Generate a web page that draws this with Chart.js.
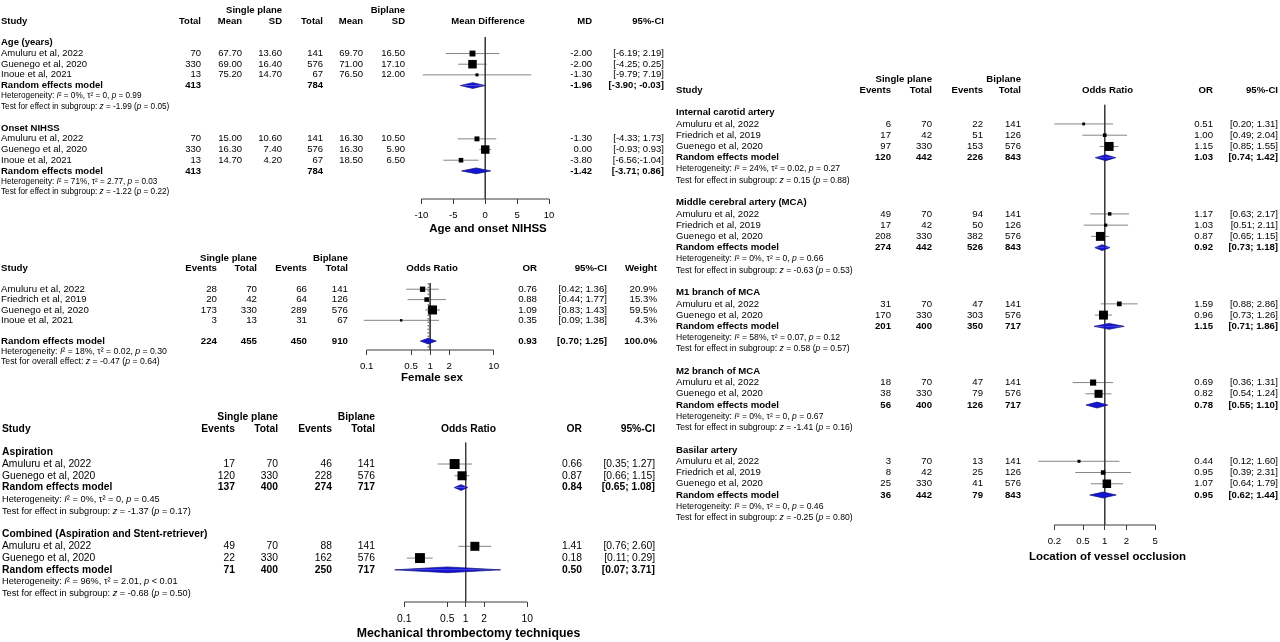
<!DOCTYPE html>
<html>
<head>
<meta charset="utf-8">
<title>Single plane vs biplane forest plots</title>
<script src="https://cdn.jsdelivr.net/npm/chart.js@4.4.1/dist/chart.umd.min.js"></script>
<style>
  html, body { margin: 0; padding: 0; background: #fff; }
  #page { position: relative; width: 1280px; height: 642px; overflow: hidden; background: #fff; }
  #page canvas { position: absolute; }
</style>
</head>
<body>
<div id="page">
  <canvas id="ageChart"></canvas>
  <canvas id="sexChart"></canvas>
  <canvas id="techChart"></canvas>
  <canvas id="vesselChart"></canvas>
</div>
<script>
// ---------- tick labels ----------
const mdTicks = [-10, -5, 0, 5, 10];
const orTicks = [0.1, 0.5, 1, 2, 10];
const vesselTicks = [0.2, 0.5, 1, 2, 5];

// ---------- Age and onset NIHSS (mean difference) ----------
const mdStudy = ['Amuluru et al, 2022', 'Guenego et al, 2020', 'Inoue et al, 2021'];
const mdSpTotal = [70, 330, 13];
const mdBpTotal = [141, 576, 67];

const ageSpMean = [67.70, 69.00, 75.20];
const ageSpSd = [13.60, 16.40, 14.70];
const ageBpMean = [69.70, 71.00, 76.50];
const ageBpSd = [16.50, 17.10, 12.00];
const ageMd = [-2.00, -2.00, -1.30];
const ageLow = [-6.19, -4.25, -9.79];
const ageHigh = [2.19, 0.25, 7.19];
const ageWeight = [30, 62, 8];
const agePooled = [-1.96, -3.90, -0.03];
const agePooledTotal = [413, 784];
const ageHet = [0, 0, 0.99];
const ageTest = [-1.99, 0.05];

const nihssSpMean = [15.00, 16.30, 14.70];
const nihssSpSd = [10.60, 7.40, 4.20];
const nihssBpMean = [16.30, 16.30, 18.50];
const nihssBpSd = [10.50, 5.90, 6.50];
const nihssMd = [-1.30, 0.00, -3.80];
const nihssLow = [-4.33, -0.93, -6.56];
const nihssHigh = [1.73, 0.93, -1.04];
const nihssWeight = [21, 61, 18];
const nihssPooled = [-1.42, -3.71, 0.86];
const nihssPooledTotal = [413, 784];
const nihssHet = [71, 2.77, 0.03];
const nihssTest = [-1.22, 0.22];

// ---------- Female sex ----------
const sexStudy = ['Amuluru et al, 2022', 'Friedrich et al, 2019', 'Guenego et al, 2020', 'Inoue et al, 2021'];
const sexSpEvents = [28, 20, 173, 3];
const sexSpTotal = [70, 42, 330, 13];
const sexBpEvents = [66, 64, 289, 31];
const sexBpTotal = [141, 126, 576, 67];
const sexOr = [0.76, 0.88, 1.09, 0.35];
const sexLow = [0.42, 0.44, 0.83, 0.09];
const sexHigh = [1.36, 1.77, 1.43, 1.38];
const sexWeight = [20.9, 15.3, 59.5, 4.3];
const sexPooled = [0.93, 0.70, 1.25];
const sexPooledCount = [224, 455, 450, 910];
const sexHet = [18, 0.02, 0.30];
const sexTest = [-0.47, 0.64];

// ---------- Mechanical thrombectomy techniques ----------
const techStudy = ['Amuluru et al, 2022', 'Guenego et al, 2020'];

const aspSpEvents = [17, 120];
const aspSpTotal = [70, 330];
const aspBpEvents = [46, 228];
const aspBpTotal = [141, 576];
const aspOr = [0.66, 0.87];
const aspLow = [0.35, 0.66];
const aspHigh = [1.27, 1.15];
const aspWeight = [55, 45];
const aspPooled = [0.84, 0.65, 1.08];
const aspPooledCount = [137, 400, 274, 717];
const aspHet = [0, 0, 0.45];
const aspTest = [-1.37, 0.17];

const combSpEvents = [49, 22];
const combSpTotal = [70, 330];
const combBpEvents = [88, 162];
const combBpTotal = [141, 576];
const combOr = [1.41, 0.18];
const combLow = [0.76, 0.11];
const combHigh = [2.60, 0.29];
const combWeight = [45, 55];
const combPooled = [0.50, 0.07, 3.71];
const combPooledCount = [71, 400, 250, 717];
const combHet = [96, 2.01, '< 0.01'];
const combTest = [-0.68, 0.50];

// ---------- Location of vessel occlusion ----------
const threeStudy = ['Amuluru et al, 2022', 'Friedrich et al, 2019', 'Guenego et al, 2020'];
const twoStudy = ['Amuluru et al, 2022', 'Guenego et al, 2020'];

const icaSpEvents = [6, 17, 97];
const icaSpTotal = [70, 42, 330];
const icaBpEvents = [22, 51, 153];
const icaBpTotal = [141, 126, 576];
const icaOr = [0.51, 1.00, 1.15];
const icaLow = [0.20, 0.49, 0.85];
const icaHigh = [1.31, 2.04, 1.55];
const icaWeight = [8, 13, 79];
const icaPooled = [1.03, 0.74, 1.42];
const icaPooledCount = [120, 442, 226, 843];
const icaHet = [24, 0.02, 0.27];
const icaTest = [0.15, 0.88];

const mcaSpEvents = [49, 17, 208];
const mcaSpTotal = [70, 42, 330];
const mcaBpEvents = [94, 50, 382];
const mcaBpTotal = [141, 126, 576];
const mcaOr = [1.17, 1.03, 0.87];
const mcaLow = [0.63, 0.51, 0.65];
const mcaHigh = [2.17, 2.11, 1.15];
const mcaWeight = [12, 10, 78];
const mcaPooled = [0.92, 0.73, 1.18];
const mcaPooledCount = [274, 442, 526, 843];
const mcaHet = [0, 0, 0.66];
const mcaTest = [-0.63, 0.53];

const m1SpEvents = [31, 170];
const m1SpTotal = [70, 330];
const m1BpEvents = [47, 303];
const m1BpTotal = [141, 576];
const m1Or = [1.59, 0.96];
const m1Low = [0.88, 0.73];
const m1High = [2.86, 1.26];
const m1Weight = [22, 78];
const m1Pooled = [1.15, 0.71, 1.86];
const m1PooledCount = [201, 400, 350, 717];
const m1Het = [58, 0.07, 0.12];
const m1Test = [0.58, 0.57];

const m2SpEvents = [18, 38];
const m2SpTotal = [70, 330];
const m2BpEvents = [47, 79];
const m2BpTotal = [141, 576];
const m2Or = [0.69, 0.82];
const m2Low = [0.36, 0.54];
const m2High = [1.31, 1.24];
const m2Weight = [37, 63];
const m2Pooled = [0.78, 0.55, 1.10];
const m2PooledCount = [56, 400, 126, 717];
const m2Het = [0, 0, 0.67];
const m2Test = [-1.41, 0.16];

const basSpEvents = [3, 8, 25];
const basSpTotal = [70, 42, 330];
const basBpEvents = [13, 25, 41];
const basBpTotal = [141, 126, 576];
const basOr = [0.44, 0.95, 1.07];
const basLow = [0.12, 0.39, 0.64];
const basHigh = [1.60, 2.31, 1.79];
const basWeight = [9, 20, 71];
const basPooled = [0.95, 0.62, 1.44];
const basPooledCount = [36, 442, 79, 843];
const basHet = [0, 0, 0.46];
const basTest = [-0.25, 0.80];

// ---------- helpers ----------
const FONT = '"Liberation Sans", Arial, Helvetica, sans-serif';
const AXIS_H = 40;
const SUBGROUP = 'Test for effect in subgroup';
const INK = '#000';
const RULE = '#3c3c3c';

const f2 = v => v.toFixed(2);

function ciText(lo, hi, tight) {
  return '[' + f2(lo) + ';' + (tight && hi < 0 ? '' : ' ') + f2(hi) + ']';
}

function hetText(h) {
  const tau = h[1] === 0 ? '0' : f2(h[1]);
  const p = typeof h[2] === 'string' ? h[2] : '= ' + f2(h[2]);
  return 'Heterogeneity: {I}\u00b2 = ' + h[0] + '%, \u03c4\u00b2 = ' + tau + ', {p} ' + p;
}

function testText(label, t) {
  return label + ': {z} = ' + f2(t[0]) + ' ({p} = ' + f2(t[1]) + ')';
}

function orGroup(title, study, spE, spT, bpE, bpT, est, low, high, weight, pooled, count, het, test, testLabel) {
  return {
    title, study, est, low, high, weight, pooled, het, test, testLabel,
    cells: [spE, spT, bpE, bpT],
    pooledCells: count
  };
}

const ageGroup = {
  title: 'Age (years)', study: mdStudy,
  cells: [mdSpTotal, ageSpMean.map(f2), ageSpSd.map(f2), mdBpTotal, ageBpMean.map(f2), ageBpSd.map(f2)],
  est: ageMd, low: ageLow, high: ageHigh, weight: ageWeight,
  pooled: agePooled, pooledCells: [agePooledTotal[0], '', '', agePooledTotal[1], '', ''],
  het: ageHet, test: ageTest, testLabel: SUBGROUP
};
const nihssGroup = {
  title: 'Onset NIHSS', study: mdStudy,
  cells: [mdSpTotal, nihssSpMean.map(f2), nihssSpSd.map(f2), mdBpTotal, nihssBpMean.map(f2), nihssBpSd.map(f2)],
  est: nihssMd, low: nihssLow, high: nihssHigh, weight: nihssWeight,
  pooled: nihssPooled, pooledCells: [nihssPooledTotal[0], '', '', nihssPooledTotal[1], '', ''],
  het: nihssHet, test: nihssTest, testLabel: SUBGROUP
};
const sexGroup = orGroup(null, sexStudy, sexSpEvents, sexSpTotal, sexBpEvents, sexBpTotal,
  sexOr, sexLow, sexHigh, sexWeight, sexPooled, sexPooledCount, sexHet, sexTest, 'Test for overall effect');
sexGroup.gap = 1;

const panels = [
  {
    canvas: 'ageChart', left: 0, top: 0, width: 670,
    row0: 38, pitch: 11, axisY: 199, refTop: 32, titleY: 229,
    scale: 'linear', center: 488, unit: 6.5, ref: 0, ticks: mdTicks,
    font: 9.5, noteFont: 8.2, titleFont: 11.5, boxK: 1.08,
    forestHead: 'Mean Difference', title: 'Age and onset NIHSS',
    cols: [
      { x: 1, head: 'Study' }, { x: 201, head: 'Total' }, { x: 242, head: 'Mean' },
      { x: 282, head: 'SD', top: 'Single plane' }, { x: 323, head: 'Total' },
      { x: 363, head: 'Mean' }, { x: 405, head: 'SD', top: 'Biplane' }
    ],
    right: [{ x: 592, head: 'MD' }, { x: 664, head: '95%-CI' }],
    groups: [ageGroup, nihssGroup]
  },
  {
    canvas: 'sexChart', left: 0, top: 240, width: 670,
    row0: 285.5, pitch: 11, axisY: 350, refTop: 279, titleY: 378,
    scale: 'log', center: 432, unit: 28.1, ref: 1, ticks: orTicks, dotted: sexPooled[0],
    font: 9.7, noteFont: 8.7, titleFont: 11.5, boxK: 1.167,
    forestHead: 'Odds Ratio', title: 'Female sex',
    cols: [
      { x: 1, head: 'Study' }, { x: 217, head: 'Events' }, { x: 257, head: 'Total', top: 'Single plane' },
      { x: 307, head: 'Events' }, { x: 348, head: 'Total', top: 'Biplane' }
    ],
    right: [{ x: 537, head: 'OR' }, { x: 607, head: '95%-CI' }, { x: 657, head: 'Weight' }],
    groups: [sexGroup]
  },
  {
    canvas: 'techChart', left: 0, top: 395, width: 670,
    row0: 447, pitch: 12.17, axisY: 602, refTop: 437, titleY: 634,
    scale: 'log', center: 468.5, unit: 27.25, ref: 1, ticks: orTicks,
    font: 10.3, noteFont: 9.2, titleFont: 12.3, boxK: 1.34,
    forestHead: 'Odds Ratio', title: 'Mechanical thrombectomy techniques',
    cols: [
      { x: 2, head: 'Study' }, { x: 235, head: 'Events' }, { x: 278, head: 'Total', top: 'Single plane' },
      { x: 332, head: 'Events' }, { x: 375, head: 'Total', top: 'Biplane' }
    ],
    right: [{ x: 582, head: 'OR' }, { x: 655, head: '95%-CI' }],
    groups: [
      orGroup('Aspiration', techStudy, aspSpEvents, aspSpTotal, aspBpEvents, aspBpTotal,
        aspOr, aspLow, aspHigh, aspWeight, aspPooled, aspPooledCount, aspHet, aspTest, SUBGROUP),
      orGroup('Combined (Aspiration and Stent-retriever)', techStudy, combSpEvents, combSpTotal, combBpEvents, combBpTotal,
        combOr, combLow, combHigh, combWeight, combPooled, combPooledCount, combHet, combTest, SUBGROUP)
    ]
  },
  {
    canvas: 'vesselChart', left: 670, top: 60, width: 610,
    row0: 107, pitch: 11.4, axisY: 525, refTop: 99, titleY: 557,
    scale: 'log', center: 1107.5, unit: 32, ref: 1, ticks: vesselTicks,
    font: 9.6, noteFont: 8.6, titleFont: 11.5, boxK: 1.01,
    forestHead: 'Odds Ratio', title: 'Location of vessel occlusion',
    cols: [
      { x: 676, head: 'Study' }, { x: 891, head: 'Events' }, { x: 932, head: 'Total', top: 'Single plane' },
      { x: 983, head: 'Events' }, { x: 1021, head: 'Total', top: 'Biplane' }
    ],
    right: [{ x: 1213, head: 'OR' }, { x: 1278, head: '95%-CI' }],
    groups: [
      orGroup('Internal carotid artery', threeStudy, icaSpEvents, icaSpTotal, icaBpEvents, icaBpTotal,
        icaOr, icaLow, icaHigh, icaWeight, icaPooled, icaPooledCount, icaHet, icaTest, SUBGROUP),
      orGroup('Middle cerebral artery (MCA)', threeStudy, mcaSpEvents, mcaSpTotal, mcaBpEvents, mcaBpTotal,
        mcaOr, mcaLow, mcaHigh, mcaWeight, mcaPooled, mcaPooledCount, mcaHet, mcaTest, SUBGROUP),
      orGroup('M1 branch of MCA', twoStudy, m1SpEvents, m1SpTotal, m1BpEvents, m1BpTotal,
        m1Or, m1Low, m1High, m1Weight, m1Pooled, m1PooledCount, m1Het, m1Test, SUBGROUP),
      orGroup('M2 branch of MCA', twoStudy, m2SpEvents, m2SpTotal, m2BpEvents, m2BpTotal,
        m2Or, m2Low, m2High, m2Weight, m2Pooled, m2PooledCount, m2Het, m2Test, SUBGROUP),
      orGroup('Basilar artery', threeStudy, basSpEvents, basSpTotal, basBpEvents, basBpTotal,
        basOr, basLow, basHigh, basWeight, basPooled, basPooledCount, basHet, basTest, SUBGROUP)
    ]
  }
];

// rows of a panel: title, studies, pooled estimate, heterogeneity, test, blank
function layoutRows(p) {
  const rows = [];
  let r = 0;
  p.groups.forEach(g => {
    if (g.title) rows.push({ r: r++, kind: 'title', g });
    g.study.forEach((s, i) => rows.push({ r: r++, kind: 'study', g, i }));
    if (g.gap) r += g.gap;
    rows.push({ r: r++, kind: 'pooled', g });
    rows.push({ r: r++, kind: 'het', g });
    rows.push({ r: r++, kind: 'test', g });
    r++;
  });
  return rows;
}

function drawRich(ctx, str, x, y, size) {
  str.split(/(\{[^}]*\})/).filter(Boolean).forEach(part => {
    const italic = part[0] === '{';
    const t = italic ? part.slice(1, -1) : part;
    ctx.font = (italic ? 'italic ' : '') + size + 'px ' + FONT;
    ctx.fillText(t, x, y);
    x += ctx.measureText(t).width;
  });
}

function drawTable(chart, p, rows) {
  const ctx = chart.ctx;
  const ys = chart.scales.y;
  const X = v => v - p.left;
  const put = (text, x, row, align, bold, size) => {
    ctx.font = (bold ? 'bold ' : '') + (size || p.font) + 'px ' + FONT;
    ctx.textAlign = align;
    ctx.fillText(String(text), X(x), ys.getPixelForValue(row));
  };
  ctx.save();
  ctx.fillStyle = INK;
  ctx.textBaseline = 'middle';

  p.cols.forEach((c, k) => {
    if (c.top) put(c.top, c.x, -3, 'right', true);
    put(c.head, c.x, -2, k === 0 ? 'left' : 'right', true);
  });
  put(p.forestHead, p.center, -2, 'center', true);
  p.right.forEach(c => put(c.head, c.x, -2, 'right', true));

  const studyX = p.cols[0].x;
  rows.forEach(row => {
    const g = row.g;
    if (row.kind === 'title') {
      put(g.title, studyX, row.r, 'left', true);
    } else if (row.kind === 'study') {
      const i = row.i;
      put(g.study[i], studyX, row.r, 'left', false);
      g.cells.forEach((col, c) => put(col[i], p.cols[c + 1].x, row.r, 'right', false));
      put(f2(g.est[i]), p.right[0].x, row.r, 'right', false);
      put(ciText(g.low[i], g.high[i], true), p.right[1].x, row.r, 'right', false);
      if (p.right[2]) put(g.weight[i].toFixed(1) + '%', p.right[2].x, row.r, 'right', false);
    } else if (row.kind === 'pooled') {
      put('Random effects model', studyX, row.r, 'left', true);
      g.pooledCells.forEach((v, c) => put(v, p.cols[c + 1].x, row.r, 'right', true));
      put(f2(g.pooled[0]), p.right[0].x, row.r, 'right', true);
      put(ciText(g.pooled[1], g.pooled[2], false), p.right[1].x, row.r, 'right', true);
      if (p.right[2]) {
        const total = g.weight.reduce((a, b) => a + b, 0);
        put(total.toFixed(1) + '%', p.right[2].x, row.r, 'right', true);
      }
    } else {
      ctx.textAlign = 'left';
      const str = row.kind === 'het' ? hetText(g.het) : testText(g.testLabel, g.test);
      drawRich(ctx, str, X(studyX), ys.getPixelForValue(row.r), p.noteFont);
    }
  });

  ctx.font = 'bold ' + p.titleFont + 'px ' + FONT;
  ctx.textAlign = 'center';
  ctx.fillText(p.title, X(p.center), p.titleY - p.top);
  ctx.restore();
}

function buildDatasets(p, rows, yMax) {
  const ds = [];
  const line = { type: 'line', pointRadius: 0, fill: false, clip: false, tension: 0 };
  const refTopRow = (p.refTop - p.row0) / p.pitch;
  const halfH = 3 / p.pitch;
  const boxes = [];
  const boxR = [];
  rows.forEach(row => {
    const g = row.g;
    if (row.kind === 'study') {
      const i = row.i;
      ds.push(Object.assign({}, line, {
        data: [{ x: g.low[i], y: row.r }, { x: g.high[i], y: row.r }],
        borderColor: '#858585', borderWidth: 1, order: 3
      }));
      boxes.push({ x: g.est[i], y: row.r });
      boxR.push(p.boxK * Math.sqrt(g.weight[i]) / Math.SQRT2);
    } else if (row.kind === 'pooled') {
      const [est, lo, hi] = g.pooled;
      [-halfH, halfH].forEach(dh => ds.push(Object.assign({}, line, {
        data: [{ x: lo, y: row.r }, { x: est, y: row.r + dh }, { x: hi, y: row.r }],
        fill: { value: row.r }, backgroundColor: '#1414d4', borderColor: '#10107a',
        borderWidth: 0.7, order: 1
      })));
    }
  });
  ds.push({
    type: 'scatter', data: boxes, pointStyle: 'rect', pointRadius: boxR,
    backgroundColor: '#000', borderWidth: 0, clip: false, order: 1
  });
  ds.push(Object.assign({}, line, {
    data: [{ x: p.ref, y: refTopRow }, { x: p.ref, y: yMax }],
    borderColor: RULE, borderWidth: 1, order: 2
  }));
  if (p.dotted !== undefined) {
    ds.push(Object.assign({}, line, {
      data: [{ x: p.dotted, y: refTopRow }, { x: p.dotted, y: yMax }],
      borderColor: RULE, borderWidth: 1, borderDash: [1.5, 2], order: 2
    }));
  }
  ds.push(Object.assign({}, line, {
    data: [{ x: p.ticks[0], y: yMax }, { x: p.ticks[p.ticks.length - 1], y: yMax }],
    borderColor: RULE, borderWidth: 1, order: 2
  }));
  return ds;
}

panels.forEach(p => {
  const canvas = document.getElementById(p.canvas);
  const height = p.axisY - p.top + AXIS_H;
  canvas.width = p.width;
  canvas.height = height;
  canvas.style.left = p.left + 'px';
  canvas.style.top = p.top + 'px';
  canvas.style.width = p.width + 'px';
  canvas.style.height = height + 'px';

  const rows = layoutRows(p);
  const yMin = (p.top - p.row0) / p.pitch;
  const yMax = (p.axisY - p.row0) / p.pitch;
  const c = p.center - p.left;
  const xMin = p.scale === 'log' ? Math.exp(-c / p.unit) : -c / p.unit;
  const xMax = p.scale === 'log' ? Math.exp((p.width - c) / p.unit) : (p.width - c) / p.unit;

  new Chart(canvas.getContext('2d'), {
    type: 'scatter',
    data: { datasets: buildDatasets(p, rows, yMax) },
    options: {
      responsive: false,
      animation: false,
      events: [],
      layout: { padding: 0 },
      plugins: { legend: { display: false }, tooltip: { enabled: false } },
      scales: {
        x: {
          type: p.scale === 'log' ? 'logarithmic' : 'linear',
          min: xMin, max: xMax, bounds: 'data',
          afterBuildTicks: s => { s.ticks = p.ticks.map(v => ({ value: v })); },
          afterFit: s => { s.height = AXIS_H; },
          border: { display: false },
          grid: { drawOnChartArea: false, drawTicks: true, tickLength: 5, color: RULE, lineWidth: 1 },
          ticks: {
            autoSkip: false, maxRotation: 0, padding: 6, color: INK,
            font: { family: FONT, size: p.font },
            callback: v => String(v)
          }
        },
        y: { type: 'linear', display: false, reverse: true, min: yMin, max: yMax, bounds: 'data' }
      }
    },
    plugins: [{ id: 'forestTable', afterDraw: chart => drawTable(chart, p, rows) }]
  });
});
</script>
</body>
</html>
